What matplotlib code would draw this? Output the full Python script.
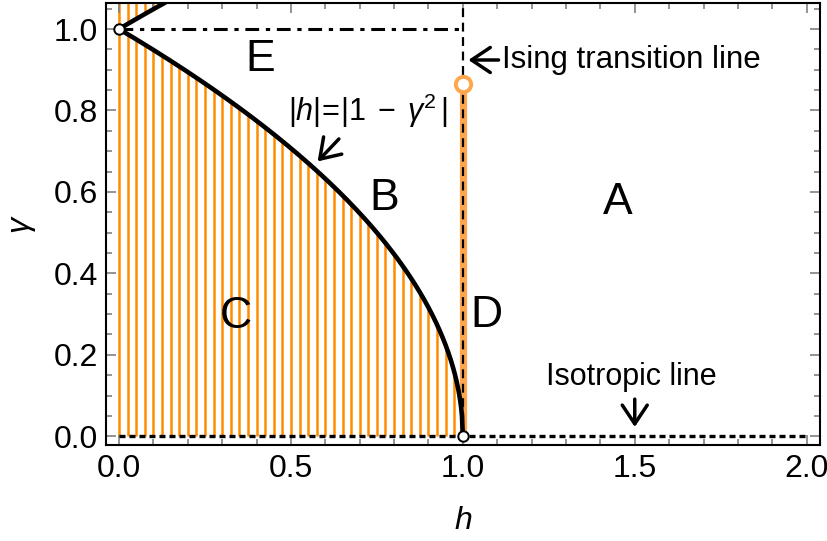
import numpy as np
import matplotlib
matplotlib.use("Agg")
import matplotlib.pyplot as plt
from matplotlib.ticker import MultipleLocator

plt.rcParams['font.family'] = ['Liberation Sans', 'DejaVu Sans']
plt.rcParams['mathtext.fontset'] = 'custom'
plt.rcParams['mathtext.rm'] = 'Liberation Sans'
plt.rcParams['mathtext.it'] = 'Liberation Sans:italic'

# axes range
h_lim = [-0.038, 2.038]
g_lim = [-0.022, 1.064]

# boundary |h| = |1 - gamma^2|
h_low = np.linspace(0, 1, 400)
g_low = np.sqrt(1 - h_low)
h_up = np.linspace(0, 0.2, 100)
g_up = np.sqrt(1 + h_up)

# orange hatch positions (region C)
hatch_h = np.linspace(0, 0.975, 40)

# Ising transition segment and special points
ising_h = 1.0
ising_top = 0.866
open_pts_h = [0.0, 1.0]
open_pts_g = [1.0, 0.0]

# region labels
reg_names = ["A", "B", "C", "D", "E"]
reg_h = [1.45, 0.77, 0.34, 1.07, 0.41]
reg_g = [0.575, 0.585, 0.295, 0.297, 0.925]

orange = "#FF8C00"
orange_light = "#FFA64D"

fig = plt.figure(figsize=(8.28, 5.41), dpi=100)
ax = fig.add_axes([0.128, 0.177, 0.862, 0.8175])

# hatching below the lower curve
ax.vlines(hatch_h, 0, np.sqrt(1 - hatch_h), color=orange, lw=1.8, zorder=1)
# hatching above the upper curve
top_mask = np.sqrt(1 + hatch_h) < g_lim[1]
ax.vlines(hatch_h[top_mask], np.sqrt(1 + hatch_h[top_mask]), g_lim[1],
          color=orange, lw=1.8, zorder=1)

# Ising line (orange thick) and dashed line
ax.plot([ising_h, ising_h], [0, ising_top], color=orange_light, lw=5.2,
        solid_capstyle='butt', zorder=2)
ax.plot([ising_h, ising_h], [0, g_lim[1]], color='black', lw=1.6,
        dashes=(4, 2.5), zorder=3)
ax.plot([ising_h], [ising_top], 'o', ms=11, mfc='white', mec=orange_light,
        mew=2.8, zorder=4)

# gamma = 1 dash-dot line
ax.plot([0, 1], [1, 1], color='black', lw=2.2, dashes=(4.5, 2.2, 1.4, 2.2),
        zorder=3)
# isotropic line
ax.plot([0, 2], [0, 0], color='black', lw=2.4, dashes=(1.8, 1.2), zorder=3)

# boundary curve
ax.plot(h_low, g_low, color='black', lw=3.3, zorder=5)
ax.plot(h_up, g_up, color='black', lw=3.3, zorder=5)

ax.plot(open_pts_h, open_pts_g, 'o', ms=7.5, mfc='white', mec='black', mew=1.4,
        zorder=6, clip_on=False)

for name, x, y in zip(reg_names, reg_h, reg_g):
    ax.text(x, y, name, fontsize=32, ha='center', va='center', zorder=7)

# annotations
arrow = dict(arrowstyle='->,head_length=0.45,head_width=0.3', color='black',
             lw=2.5, mutation_scale=30)
ax.text(0.725, 0.80, r'$|\mathit{h}|\!=\!|1\;-\;\mathit{\gamma}^2\,|$', fontsize=22,
        ha='center', va='center', zorder=7)
ax.annotate('', xy=(0.572, 0.670), xytext=(0.645, 0.735),
            arrowprops=arrow, zorder=7)
ax.annotate('', xy=(1.008, 0.924), xytext=(1.112, 0.924),
            arrowprops=arrow, zorder=7)
ax.text(1.115, 0.924, 'Ising transition line', fontsize=22.5, ha='left',
        va='center', zorder=7)
ax.text(1.49, 0.145, 'Isotropic line', fontsize=22, ha='center',
        va='center', zorder=7)
ax.annotate('', xy=(1.5, 0.016), xytext=(1.5, 0.098),
            arrowprops=arrow, zorder=7)

ax.set_xlim(h_lim)
ax.set_ylim(g_lim)
ax.xaxis.set_major_locator(MultipleLocator(0.5))
ax.xaxis.set_minor_locator(MultipleLocator(0.1))
ax.yaxis.set_major_locator(MultipleLocator(0.2))
ax.yaxis.set_minor_locator(MultipleLocator(0.05))
ax.xaxis.set_major_formatter(plt.FuncFormatter(lambda v, p: f"{v:.1f}"))
ax.yaxis.set_major_formatter(plt.FuncFormatter(lambda v, p: f"{v:.1f}"))
ax.tick_params(which='both', direction='in', top=True, right=True,
               color='#808080', labelsize=23, width=1.2)
ax.tick_params(which='major', length=7, pad=6)
ax.tick_params(which='minor', length=4)
for s in ax.spines.values():
    s.set_linewidth(1.5)

ax.set_xlabel('h', fontsize=23, fontstyle='italic', labelpad=16)
ax.set_ylabel('γ', fontsize=23, fontstyle='italic', labelpad=14)

fig.savefig('out.png', dpi=100)
